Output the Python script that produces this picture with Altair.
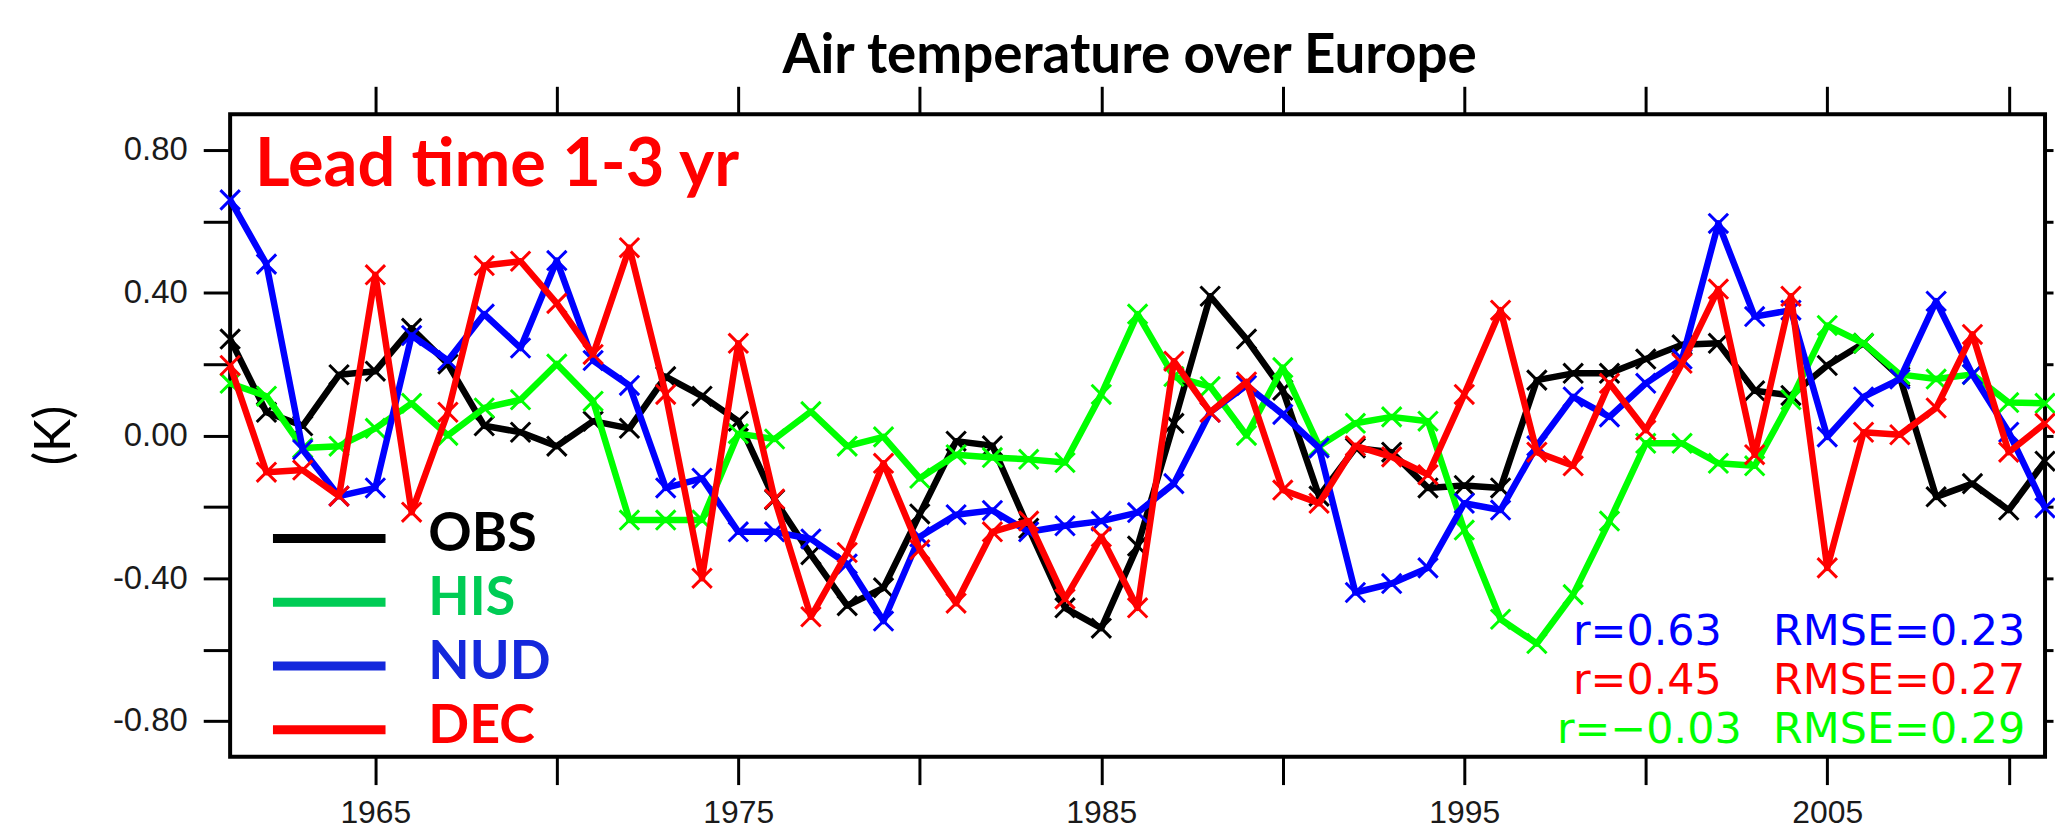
import altair as alt
import pandas as pd

years = list(range(1961, 2012))

obs = [0.27, 0.065, 0.027, 0.17, 0.18, 0.30, 0.20, 0.027, 0.009, -0.03,
       0.04, 0.02, 0.165, 0.11, 0.04, -0.18, -0.334, -0.477, -0.427, -0.22,
       -0.016, -0.029, -0.26, -0.483, -0.54, -0.31, 0.034, 0.39, 0.27, 0.127,
       -0.17, -0.035, -0.047, -0.147, -0.14, -0.147, 0.155, 0.174, 0.174, 0.214,
       0.254, 0.258, 0.125, 0.112, 0.196, 0.258, 0.164, -0.172, -0.135, -0.209,
       -0.072]
his = [0.146, 0.11, -0.035, -0.03, 0.02, 0.09, 0.0, 0.077, 0.10, 0.20,
       0.096, -0.237, -0.237, -0.237, 0.005, -0.01, 0.067, -0.03, -0.004, -0.12,
       -0.054, -0.062, -0.067, -0.076, 0.115, 0.34, 0.165, 0.137, 0.0, 0.19,
       -0.03, 0.034, 0.052, 0.04, -0.265, -0.515, -0.583, -0.446, -0.24, -0.022,
       -0.022, -0.078, -0.085, 0.10, 0.308, 0.258, 0.171, 0.158, 0.171, 0.092,
       0.09]
nud = [0.66, 0.48, -0.04, -0.17, -0.147, 0.28, 0.21, 0.34, 0.245, 0.49,
       0.21, 0.14, -0.147, -0.12, -0.27, -0.27, -0.29, -0.36, -0.52, -0.284,
       -0.222, -0.21, -0.27, -0.253, -0.24, -0.216, -0.135, 0.065, 0.14, 0.059,
       -0.035, -0.44, -0.415, -0.371, -0.19, -0.209, -0.029, 0.108, 0.052, 0.146,
       0.214, 0.594, 0.333, 0.351, -0.004, 0.108, 0.158, 0.376, 0.171, 0.009,
       -0.203]
dec = [0.196, -0.103, -0.097, -0.17, 0.45, -0.215, 0.065, 0.476, 0.488, 0.37,
       0.227, 0.526, 0.115, -0.40, 0.258, -0.178, -0.508, -0.328, -0.078, -0.32,
       -0.47, -0.27, -0.24, -0.458, -0.284, -0.483, 0.208, 0.065, 0.15, -0.153,
       -0.19, -0.029, -0.06, -0.11, 0.115, 0.351, -0.047, -0.085, 0.146, 0.015,
       0.202, 0.41, -0.054, 0.39, -0.371, 0.009, 0.002, 0.077, 0.283, -0.047,
       0.034]

series_names = ["OBS", "HIS", "NUD", "DEC"]
series_values = [obs, his, nud, dec]
line_colors = ["#000000", "#00FF00", "#0000FF", "#FF0000"]
legend_colors = ["#000000", "#00CC55", "#1428DC", "#FF0000"]

stat_r = ["r=0.63", "r=0.45", "r=\u22120.03"]
stat_rmse = ["RMSE=0.23", "RMSE=0.27", "RMSE=0.29"]
stat_colors = ["#0000FF", "#FF0000", "#00FF00"]

title_text = "Air temperature over Europe"
lead_text = "Lead time 1-3 yr"
y_title = "(K)"

x_tick_values = [1965, 1970, 1975, 1980, 1985, 1990, 1995, 2000, 2005, 2010]
y_tick_values = [-0.8, -0.6, -0.4, -0.2, 0.0, 0.2, 0.4, 0.6, 0.8]

W, H = 1822, 645

xscale = alt.Scale(domain=[1961, 2011], nice=False, zero=False)
yscale = alt.Scale(domain=[-0.9, 0.9], nice=False, zero=False)

x_bottom = alt.Axis(orient="bottom", values=x_tick_values,
                    labelExpr="datum.value % 10 == 5 ? toString(datum.value) : ''",
                    tickSize=28, tickWidth=3, tickColor="black", domain=False, grid=False,
                    labelFont="Liberation Sans", labelFontSize=32, labelColor="#1a1a1a",
                    labelPadding=13, title=None, labelFlush=False)
y_left = alt.Axis(orient="left", values=y_tick_values,
                  labelExpr="round(datum.value*10) % 4 == 0 ? replace(format(datum.value, '.2f'), '\u2212', '-') : ''",
                  tickSize=27, tickWidth=3, tickColor="black", domain=False, grid=False,
                  labelFont="Liberation Sans", labelFontSize=33, labelColor="#1a1a1a",
                  labelPadding=16, title=y_title, titleFont="Lato", titleFontSize=50,
                  titleFontWeight="normal", titleColor="black", titleAngle=270,
                  titleX=-151, titleY=322, titleBaseline="bottom", titleAlign="center")
x_top = alt.Axis(orient="top", values=x_tick_values, labels=False, tickSize=28, tickWidth=3,
                 tickColor="black", domain=False, grid=False, title=None)
y_right = alt.Axis(orient="right", values=y_tick_values, labels=False, tickSize=8, tickWidth=3,
                   tickColor="black", domain=False, grid=False, title=None)

layers = []
for i, (name, vals) in enumerate(zip(series_names, series_values)):
    df = pd.DataFrame({"year": years, "value": vals, "series": name})
    base = alt.Chart(df)
    if i == 0:
        enc_x = alt.X("year:Q", scale=xscale, axis=x_bottom)
        enc_y = alt.Y("value:Q", scale=yscale, axis=y_left)
    else:
        enc_x = alt.X("year:Q", scale=xscale, axis=None)
        enc_y = alt.Y("value:Q", scale=yscale, axis=None)
    line = base.mark_line(color=line_colors[i], strokeWidth=6.5, strokeJoin="round").encode(x=enc_x, y=enc_y)
    pts = base.mark_point(shape="M -1 -1 L 1 1 M -1 1 L 1 -1", filled=False, color=line_colors[i],
                          strokeWidth=3, size=380, opacity=1).encode(
        x=alt.X("year:Q", scale=xscale, axis=None), y=alt.Y("value:Q", scale=yscale, axis=None))
    layers += [line, pts]

# top / right axes
frame_df = pd.DataFrame({"year": years, "value": obs})
layers.append(alt.Chart(frame_df).mark_line(opacity=0).encode(
    x=alt.X("year:Q", scale=xscale, axis=x_top),
    y=alt.Y("value:Q", scale=yscale, axis=y_right)))

one = pd.DataFrame({"k": [0]})

# title
layers.append(alt.Chart(one).mark_text(text=title_text, font="Lato", fontSize=55, fontWeight="bold",
                                       align="center", baseline="alphabetic", color="black").encode(
    x=alt.value(903), y=alt.value(-41)))
# lead time
layers.append(alt.Chart(one).mark_text(text=lead_text, font="Lato", fontSize=67, fontWeight="bold",
                                       align="left", baseline="alphabetic", color="#FF0000").encode(
    x=alt.value(25), y=alt.value(72)))

# legend
leg_y0, leg_dy = 426, 64
for i, name in enumerate(series_names):
    yy = leg_y0 + i * leg_dy
    layers.append(alt.Chart(one).mark_rule(color=legend_colors[i], strokeWidth=9).encode(
        x=alt.value(43), x2=alt.value(156), y=alt.value(yy)))
    layers.append(alt.Chart(one).mark_text(text=name, font="Lato", fontSize=54, fontWeight="bold",
                                           align="left", baseline="alphabetic", color=legend_colors[i]).encode(
        x=alt.value(199), y=alt.value(yy + 13)))

# stats
stat_y = [533, 582, 631]
stat_rx = [1348, 1348, 1332]
for i in range(3):
    layers.append(alt.Chart(one).mark_text(text=stat_r[i], font="DejaVu Sans", fontSize=43,
                                           align="left", baseline="alphabetic", color=stat_colors[i]).encode(
        x=alt.value(stat_rx[i]), y=alt.value(stat_y[i])))
    layers.append(alt.Chart(one).mark_text(text=stat_rmse[i], font="DejaVu Sans", fontSize=43,
                                           align="left", baseline="alphabetic", color=stat_colors[i]).encode(
        x=alt.value(1549), y=alt.value(stat_y[i])))

chart = alt.layer(*layers).resolve_axis(x="independent", y="independent").properties(
    width=W, height=H,
    padding={"left": 223, "top": 105, "right": 10, "bottom": 76},
    autosize=alt.AutoSizeParams(type="none"),
    background="white",
).configure_view(stroke="black", strokeWidth=4)

chart.save("out.html", embed_options={"renderer": "svg", "actions": False})
